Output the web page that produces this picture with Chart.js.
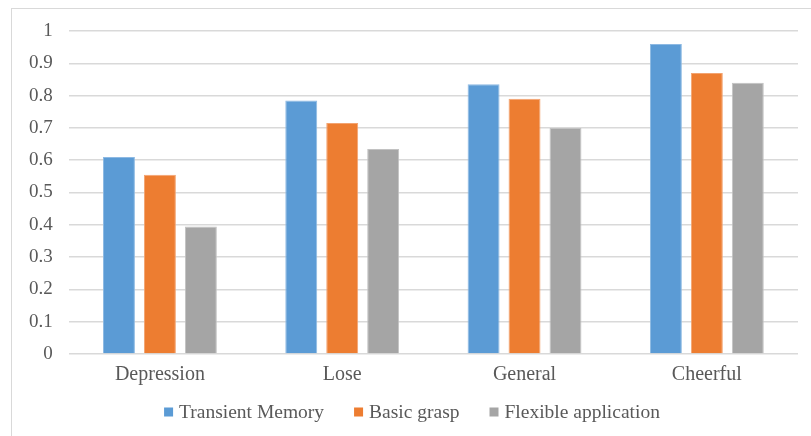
<!DOCTYPE html>
<html>
<head>
<meta charset="utf-8">
<script src="https://cdn.jsdelivr.net/npm/chart.js@4/dist/chart.umd.min.js"></script>
<style>
  html, body { margin: 0; padding: 0; background: #fff; }
  #wrap { position: relative; width: 811px; height: 436px; overflow: hidden; }
  #frame { position: absolute; left: 11px; top: 8px; width: 820px; height: 440px;
           border-top: 1.5px solid #d9d9d9; border-left: 1.5px solid #d9d9d9; box-sizing: border-box; }
  canvas { position: absolute; left: 0; top: 0; }
  #warm { position: absolute; left: -999px; top: 0; font-family: "Liberation Serif"; font-size: 19px; }
</style>
</head>
<body>
<div id="wrap">
  <div id="frame"></div>
  <canvas id="c" width="811" height="436"></canvas>
</div>
<span id="warm">Depression 0.1</span>
<script>
// Mood categories and the three scores measured for each
const categories = ['Depression', 'Lose', 'General', 'Cheerful'];
const transientMemory = [0.61, 0.785, 0.835, 0.96];
const basicGrasp = [0.555, 0.715, 0.79, 0.87];
const flexibleApplication = [0.395, 0.635, 0.70, 0.84];
const seriesNames = ['Transient Memory', 'Basic grasp', 'Flexible application'];

const serifFamily = "'Liberation Serif', 'Times New Roman', serif";
const textGray = '#595959';

function series(label, data, fill, edge) {
  return {
    label, data,
    backgroundColor: fill,
    borderColor: edge,
    borderWidth: 1,
    categoryPercentage: 0.674,
    barPercentage: 0.78
  };
}

// Legend row under the axis: small square swatch, then the series name
const bottomLegend = {
  id: 'bottomLegend',
  afterDraw(chart) {
    const ctx = chart.ctx;
    const box = 9, gapText = 6, gapItem = 30;
    const y = 412;
    ctx.save();
    ctx.font = '19.5px ' + serifFamily;
    ctx.textBaseline = 'middle';
    ctx.textAlign = 'left';
    const items = chart.data.datasets.map(ds => ({
      label: ds.label, color: ds.backgroundColor,
      w: box + gapText + ctx.measureText(ds.label).width
    }));
    const total = items.reduce((s, it) => s + it.w, 0) + gapItem * (items.length - 1);
    let x = 412 - total / 2;
    items.forEach(it => {
      ctx.fillStyle = it.color;
      ctx.fillRect(x, y - box / 2, box, box);
      ctx.fillStyle = textGray;
      ctx.fillText(it.label, x + box + gapText, y + 1);
      x += it.w + gapItem;
    });
    ctx.restore();
  }
};

function draw() {
  new Chart(document.getElementById('c'), {
    type: 'bar',
    data: {
      labels: categories,
      datasets: [
        series(seriesNames[0], transientMemory, '#5B9BD5', '#8db9e3'),
        series(seriesNames[1], basicGrasp, '#ED7D31', '#f3a370'),
        series(seriesNames[2], flexibleApplication, '#A5A5A5', '#c2c2c2')
      ]
    },
    options: {
      responsive: false,
      animation: false,
      layout: { padding: { top: 31, right: 13, bottom: 48, left: 13 } },
      plugins: {
        tooltip: { enabled: false },
        legend: { display: false }
      },
      scales: {
        x: {
          grid: { display: false },
          border: { display: false },
          ticks: {
            font: { family: serifFamily, size: 20 },
            color: textGray,
            padding: 1
          }
        },
        y: {
          min: 0,
          max: 1,
          border: { display: false },
          grid: { color: '#d9d9d9', lineWidth: 1.5, drawTicks: false },
          ticks: {
            stepSize: 0.1,
            font: { family: serifFamily, size: 19 },
            color: textGray,
            padding: 16,
            callback: v => String(Math.round(v * 10) / 10)
          }
        }
      }
    },
    plugins: [bottomLegend]
  });
}

if (document.fonts && document.fonts.load) {
  Promise.all([
    document.fonts.load("20px 'Liberation Serif'"),
    document.fonts.load("19px 'Liberation Serif'")
  ]).then(draw, draw);
} else {
  draw();
}
</script>
</body>
</html>
